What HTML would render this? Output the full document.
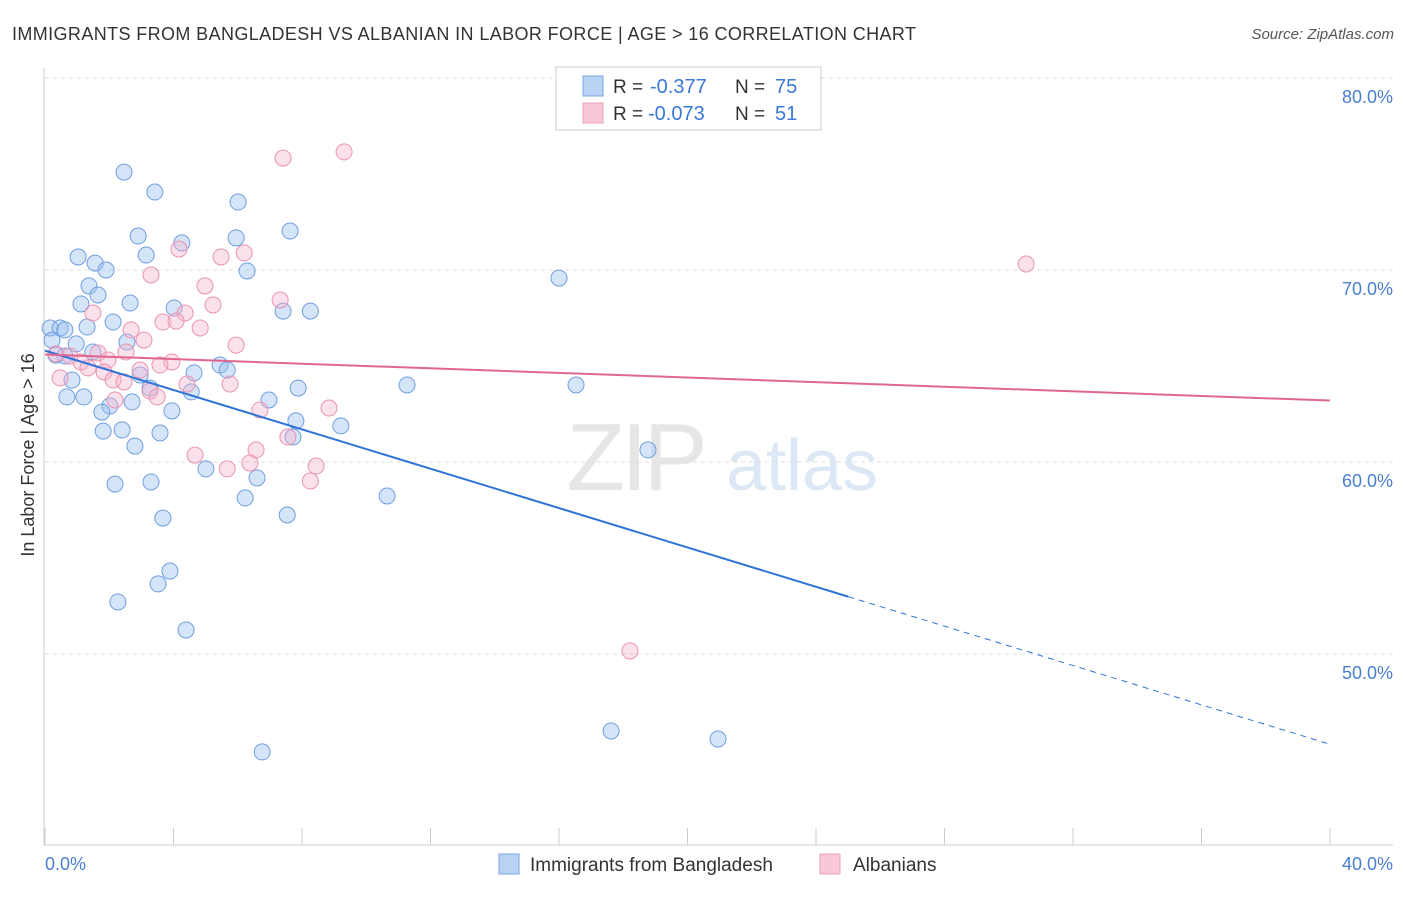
<!DOCTYPE html>
<html><head><meta charset="utf-8"><style>
body{margin:0;background:#fff;font-family:"Liberation Sans",sans-serif}
svg text{font-family:"Liberation Sans",sans-serif}
</style></head><body>
<svg id="chart" width="1406" height="892">
<text x="12" y="40" font-size="18" fill="#333" textLength="904">IMMIGRANTS FROM BANGLADESH VS ALBANIAN IN LABOR FORCE | AGE &gt; 16 CORRELATION CHART</text>
<text x="1394" y="39" font-size="15" fill="#555" text-anchor="end" font-style="italic">Source: ZipAtlas.com</text>
<g>
<text x="635" y="490" font-size="96" fill="#e6e6e6" text-anchor="middle" font-family="Liberation Serif" letter-spacing="-4">ZIP</text>
<text x="802" y="490" font-size="72" fill="#dce8f6" text-anchor="middle">atlas</text>
</g>
<g id="grid"></g>
<g id="axes"></g>
<g id="pts"></g>
<g id="lines"></g>
<text transform="translate(34,455) rotate(-90)" font-size="18" fill="#333" text-anchor="middle">In Labor Force | Age &gt; 16</text>
<text x="45" y="870" font-size="18" fill="#4a7fd0">0.0%</text>
<text x="1393" y="870" font-size="18" fill="#4a7fd0" text-anchor="end">40.0%</text>
<g>
<rect x="556" y="67" width="265" height="63" fill="#fff" stroke="#ccc"/>
<rect x="583" y="76" width="20" height="20" fill="#b9d3f4" stroke="#7aa6e0"/>
<rect x="583" y="103" width="20" height="20" fill="#f8c8d8" stroke="#eaa0ba"/>
<text x="613" y="93" font-size="19" fill="#333">R =</text>
<text x="650" y="93" font-size="20" fill="#3b78d8">-0.377</text>
<text x="735" y="93" font-size="19" fill="#333">N =</text>
<text x="775" y="93" font-size="20" fill="#3b78d8">75</text>
<text x="613" y="120" font-size="19" fill="#333">R =</text>
<text x="648" y="120" font-size="20" fill="#3b78d8">-0.073</text>
<text x="735" y="120" font-size="19" fill="#333">N =</text>
<text x="775" y="120" font-size="20" fill="#3b78d8">51</text>
</g>
<g>
<rect x="499" y="854" width="20" height="20" fill="#b9d3f4" stroke="#7aa6e0"/>
<text x="530" y="871" font-size="19" fill="#333">Immigrants from Bangladesh</text>
<rect x="820" y="854" width="20" height="20" fill="#f8c8d8" stroke="#eaa0ba"/>
<text x="853" y="871" font-size="19" fill="#333">Albanians</text>
</g>
</svg>
<script>
const yTicks=[50,60,70,80];
const yTickLabels=["50.0%","60.0%","70.0%","80.0%"];
const blueX=[2.46,3.42,6.01,2.90,4.26,5.95,7.63,3.15,1.03,1.56,1.90,6.29,16.0,1.37,1.65,2.65,1.12,4.02,7.41,8.26,2.12,1.31,0.16,0.47,0.62,2.55,0.22,0.97,1.49,0.62,0.34,5.45,5.67,4.64,2.96,0.84,11.27,16.53,7.88,3.27,4.55,0.68,1.21,6.97,2.71,2.02,3.95,1.77,7.81,9.21,2.40,1.81,3.58,7.72,2.80,18.77,5.01,6.60,2.18,3.30,10.65,6.23,7.54,3.67,3.89,3.52,2.27,4.39,17.62,20.95,6.76];
const blueY=[75.1,74.06,73.54,71.77,71.41,71.67,72.03,70.78,70.68,70.36,70.0,69.95,69.58,69.17,68.7,68.28,68.23,68.02,67.86,67.86,67.29,67.03,66.98,66.98,66.88,66.25,66.35,66.15,65.73,65.52,65.57,65.05,64.79,64.64,64.53,64.27,64.01,64.01,63.85,63.85,63.65,63.39,63.39,63.23,63.13,62.92,62.66,62.6,62.14,61.88,61.67,61.61,61.51,61.3,60.83,60.63,59.64,59.17,58.85,58.96,58.23,58.13,57.24,57.08,54.32,53.65,52.71,51.25,45.99,45.57,44.9];
const pinkX=[9.31,7.41,30.54,4.17,6.20,5.48,3.30,4.98,7.32,5.23,1.49,4.36,3.67,4.08,2.68,4.83,3.08,5.95,2.52,1.65,0.34,0.78,1.96,3.95,3.58,1.12,1.34,1.84,2.96,0.47,2.12,2.46,4.42,5.76,3.27,3.49,2.18,8.84,6.69,7.56,6.57,4.67,6.38,5.67,8.44,8.26,18.21];
const pinkY=[76.15,75.83,70.31,71.09,70.89,70.68,69.74,69.17,68.44,68.18,67.76,67.76,67.29,67.34,66.88,66.98,66.35,66.09,65.73,65.68,65.63,65.52,65.31,65.21,65.05,65.21,64.9,64.69,64.79,64.38,64.27,64.17,64.06,64.06,63.7,63.39,63.23,62.81,62.71,61.3,60.63,60.36,59.95,59.64,59.79,59.01,50.16];
const blueTrend=[65.8,45.3];
const pinkTrend=[65.6,63.2];
const NS="http://www.w3.org/2000/svg";
const X=v=>45+v*32.125, Y=v=>78+(80-v)*19.2;
function mk(tag,attrs,parent){const e=document.createElementNS(NS,tag);for(const k in attrs)e.setAttribute(k,attrs[k]);parent.appendChild(e);return e;}
const grid=document.getElementById('grid'),axes=document.getElementById('axes'),pts=document.getElementById('pts'),lines=document.getElementById('lines');
yTicks.forEach((t,i)=>{
 const l=mk('line',{x1:45,x2:1393,y1:Y(t),y2:Y(t),stroke:'#ddd','stroke-dasharray':'4,4'},grid);
 
 
 const tx=mk('text',{x:1393,y:Y(t)+25,'font-size':18,fill:'#4a7fd0','text-anchor':'end'},grid);
 tx.textContent=yTickLabels[i];
 
 
});
const ya=mk('line',{x1:44,x2:44,y1:68,y2:845,stroke:'#ccc'},axes);


const xa=mk('line',{x1:44,x2:1393,y1:845,y2:845,stroke:'#ccc'},axes);


for(let i=0;i<=10;i++){const t=mk('line',{x1:X(i*4),x2:X(i*4),y1:828,y2:845,stroke:'#ccc'},axes);
 
 }
blueX.forEach((x,i)=>{const c=mk('circle',{cx:X(x),cy:Y(blueY[i]),r:8,fill:'rgba(150,190,240,0.4)',stroke:'#6f9fdf','stroke-width':1},pts);
 
 });
pinkX.forEach((x,i)=>{const c=mk('circle',{cx:X(x),cy:Y(pinkY[i]),r:8,fill:'rgba(245,180,205,0.4)',stroke:'#e993b3','stroke-width':1},pts);
 
 });
const bAt=x=>blueTrend[0]+(blueTrend[1]-blueTrend[0])*x/40;
const b1=mk('line',{x1:X(0),y1:Y(bAt(0)),x2:X(25),y2:Y(bAt(25)),stroke:'#2f73d8','stroke-width':2},lines);


const b2=mk('line',{x1:X(25),y1:Y(bAt(25)),x2:X(40),y2:Y(bAt(40)),stroke:'#2f73d8','stroke-width':1,'stroke-dasharray':'6,5'},lines);


const p1=mk('line',{x1:X(0),y1:Y(pinkTrend[0]),x2:X(40),y2:Y(pinkTrend[1]),stroke:'#e06690','stroke-width':2},lines);


</script>
</body></html>
